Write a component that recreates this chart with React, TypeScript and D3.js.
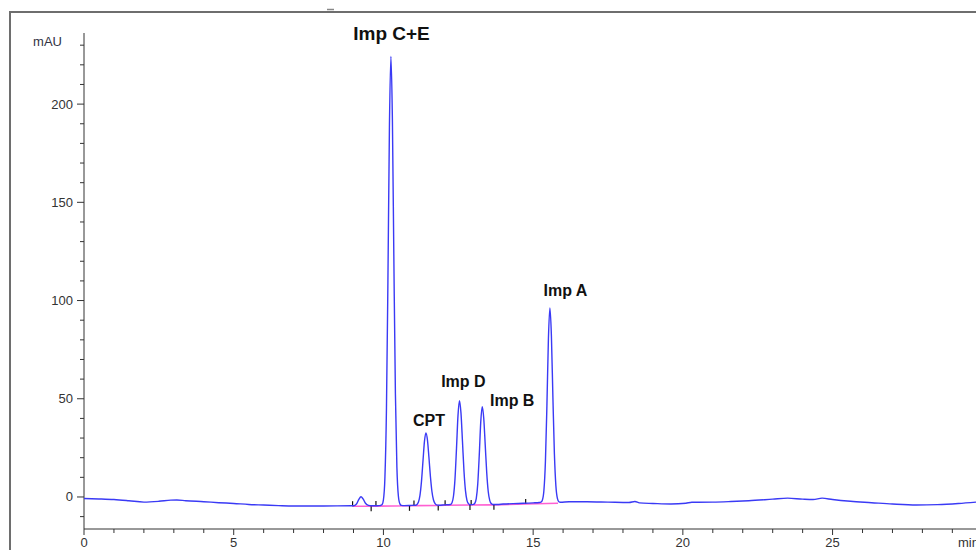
import React from 'react';
import * as d3 from 'd3';

// chromatogram trace [time (min), signal (mAU)]
const trace: [number, number][] = [
  [0, -0.8], [0.5, -1.0], [1, -1.3], [1.5, -1.9], [2, -2.6], [2.5, -2.2], [2.9, -1.6], [3.1, -1.5],
  [3.4, -1.9], [4, -2.4], [4.5, -2.9], [5, -3.3], [5.5, -3.8], [6, -4.1], [6.5, -4.4], [7, -4.6],
  [8, -4.6], [8.9, -4.5],
  [9.0, -4.5], [9.1, -3.6], [9.18, -1.2], [9.25, 0.1], [9.32, -1.0], [9.4, -3.2], [9.5, -4.3], [9.6, -4.5], [9.75, -4.5],
  [9.85, -4.4], [9.9, -4.35], [9.95, -4.0], [10.0, -1.4], [10.05, 10.0], [10.1, 43.8], [10.15, 110.0],
  [10.2, 187.9], [10.25, 224.2], [10.3, 191.6], [10.35, 118.9], [10.4, 52.6], [10.45, 15.0], [10.5, 0.4],
  [10.55, -3.5], [10.6, -4.3], [10.7, -4.4], [10.9, -4.3],
  [11.07, -4.2], [11.12, -3.8], [11.17, -2.6], [11.22, 0.8], [11.27, 7.8], [11.32, 18.1], [11.37, 28.3],
  [11.42, 32.6], [11.47, 29.0], [11.52, 20.1], [11.57, 10.3], [11.62, 2.8], [11.67, -1.4], [11.72, -3.3],
  [11.77, -4.0], [11.85, -4.2], [12.05, -4.0],
  [12.24, -3.8], [12.29, -2.9], [12.34, 0.5], [12.39, 9.2], [12.44, 24.6], [12.49, 41.4], [12.54, 49.0],
  [12.59, 42.7], [12.64, 28.2], [12.69, 13.2], [12.74, 3.2], [12.79, -1.7], [12.84, -3.4], [12.89, -3.9], [12.95, -3.9],
  [13.0, -3.8], [13.05, -3.2], [13.1, -0.8], [13.15, 6.6], [13.2, 21.1], [13.25, 38.1], [13.3, 46.0],
  [13.35, 40.1], [13.4, 26.4], [13.45, 12.3], [13.5, 2.8], [13.55, -1.7], [13.6, -3.35], [13.65, -3.8],
  [13.8, -3.8], [14.0, -3.6], [14.5, -3.3], [15.0, -3.0], [15.2, -2.8],
  [15.26, -2.6], [15.31, -1.5], [15.36, 3.4], [15.41, 18.1], [15.46, 46.7], [15.51, 80.5], [15.56, 96.2],
  [15.61, 82.0], [15.66, 50.6], [15.71, 21.9], [15.76, 5.6], [15.81, -0.7], [15.86, -2.4], [15.91, -2.7],
  [16.2, -2.4], [16.8, -2.4], [17.5, -2.6], [18.2, -2.8], [18.4, -2.3], [18.55, -3.0], [19, -3.3],
  [19.6, -3.6], [20.1, -3.2], [20.3, -2.7], [21, -2.6], [21.6, -2.3], [22.2, -1.9], [23, -1.1],
  [23.5, -0.6], [24, -1.1], [24.35, -1.3], [24.65, -0.6], [25, -1.3], [25.6, -2.2], [26.3, -2.9],
  [27, -3.6], [27.8, -4.1], [28.5, -3.9], [29.2, -3.3], [29.79, -2.6],
];

// integration baseline (pink)
const baseline: [number, number][] = [
  [8.97, -4.7], [9.59, -4.7], [9.75, -4.65], [10.87, -4.5], [11.02, -4.4], [11.83, -4.3],
  [12.06, -4.2], [12.89, -4.1], [12.93, -4.1], [13.69, -4.0], [14.75, -3.6], [15.83, -3.2],
];

const peakStarts = [8.97, 9.75, 11.02, 12.06, 12.93, 14.75];
const peakEnds = [9.59, 10.87, 11.83, 12.89, 13.69];

const peakNames = ['Imp C+E', 'CPT', 'Imp D', 'Imp B', 'Imp A'];
const labelTimes = [10.27, 11.52, 12.67, 14.3, 16.08];
const labelValues = [232.7, 36.2, 56, 46.3, 102.3];

const xMajorTicks = [0, 5, 10, 15, 20, 25];
const yMajorTicks = [0, 50, 100, 150, 200];

const W = 976;
const H = 550;
const FONT = 'Liberation Sans, Arial, sans-serif';
const AXIS = '#333333';

export default function App() {
  const x = d3.scaleLinear().domain([0, 29.79]).range([84, 976]);
  const y = d3.scaleLinear().domain([-16.3, 236.2]).range([529, 33]);

  const line = d3.line<[number, number]>()
    .x(d => x(d[0]))
    .y(d => y(d[1]))
    .curve(d3.curveMonotoneX);

  const baseLine = d3.line<[number, number]>()
    .x(d => x(d[0]))
    .y(d => y(d[1]));

  // y of the pink baseline at time t
  const baseAt = (t: number) => {
    const i = Math.max(1, Math.min(baseline.length - 1, d3.bisector((d: [number, number]) => d[0]).left(baseline, t)));
    const [t0, v0] = baseline[i - 1];
    const [t1, v1] = baseline[i];
    return y(v0 + ((t - t0) / (t1 - t0)) * (v1 - v0));
  };

  const xMinor = d3.range(0, 30, 1);
  const yMinor = d3.range(-10, 240, 10);

  return (
    <svg width={W} height={H} style={{ position: 'absolute', left: 0, top: 0, background: '#fff' }}>
      {/* outer frame */}
      <path d={`M10,${H} V12 H${W}`} fill="none" stroke="#6e6e6e" strokeWidth={2} />
      <line x1={327} x2={334} y1={9.5} y2={9.5} stroke="#888" strokeWidth={1.5} />

      {/* y axis */}
      <line x1={84} x2={84} y1={33} y2={529} stroke={AXIS} strokeWidth={1} />
      {yMinor.map(v => (
        <line key={'ym' + v} x1={yMajorTicks.includes(v) ? 77 : 80} x2={84} y1={y(v)} y2={y(v)} stroke={AXIS} />
      ))}
      {yMajorTicks.map(v => (
        <text key={'yl' + v} x={73} y={y(v) + 4.5} textAnchor="end" fontFamily={FONT} fontSize={13} fill={AXIS}>{v}</text>
      ))}
      <text x={62} y={46} textAnchor="end" fontFamily={FONT} fontSize={13} fill="#333344">mAU</text>

      {/* x axis */}
      <line x1={84} x2={W} y1={529} y2={529} stroke={AXIS} strokeWidth={1} />
      {xMinor.map(t => (
        <line key={'xm' + t} x1={x(t)} x2={x(t)} y1={529} y2={xMajorTicks.includes(t) ? 535 : 533} stroke={AXIS} />
      ))}
      {xMajorTicks.map(t => (
        <text key={'xl' + t} x={x(t)} y={547} textAnchor="middle" fontFamily={FONT} fontSize={13} fill={AXIS}>{t}</text>
      ))}
      <text x={958} y={547} fontFamily={FONT} fontSize={13} fill={AXIS}>min</text>

      {/* integration baseline and events */}
      <path d={baseLine(baseline) || ''} fill="none" stroke="#ff5fd2" strokeWidth={1.6} />
      {peakStarts.map(t => (
        <line key={'ps' + t} x1={x(t)} x2={x(t)} y1={baseAt(t)} y2={baseAt(t) - 5} stroke="#111" strokeWidth={1.2} />
      ))}
      {peakEnds.map(t => (
        <line key={'pe' + t} x1={x(t)} x2={x(t)} y1={baseAt(t)} y2={baseAt(t) + 5} stroke="#111" strokeWidth={1.2} />
      ))}

      {/* signal */}
      <path d={line(trace) || ''} fill="none" stroke="#3a3af5" strokeWidth={1.4} strokeLinejoin="round" />

      {/* peak labels */}
      {peakNames.map((name, i) => (
        <text
          key={name}
          x={x(labelTimes[i])}
          y={y(labelValues[i])}
          textAnchor="middle"
          fontFamily={FONT}
          fontWeight="bold"
          fontSize={i === 0 ? 19 : 16}
          fill="#111"
        >
          {name}
        </text>
      ))}
    </svg>
  );
}
